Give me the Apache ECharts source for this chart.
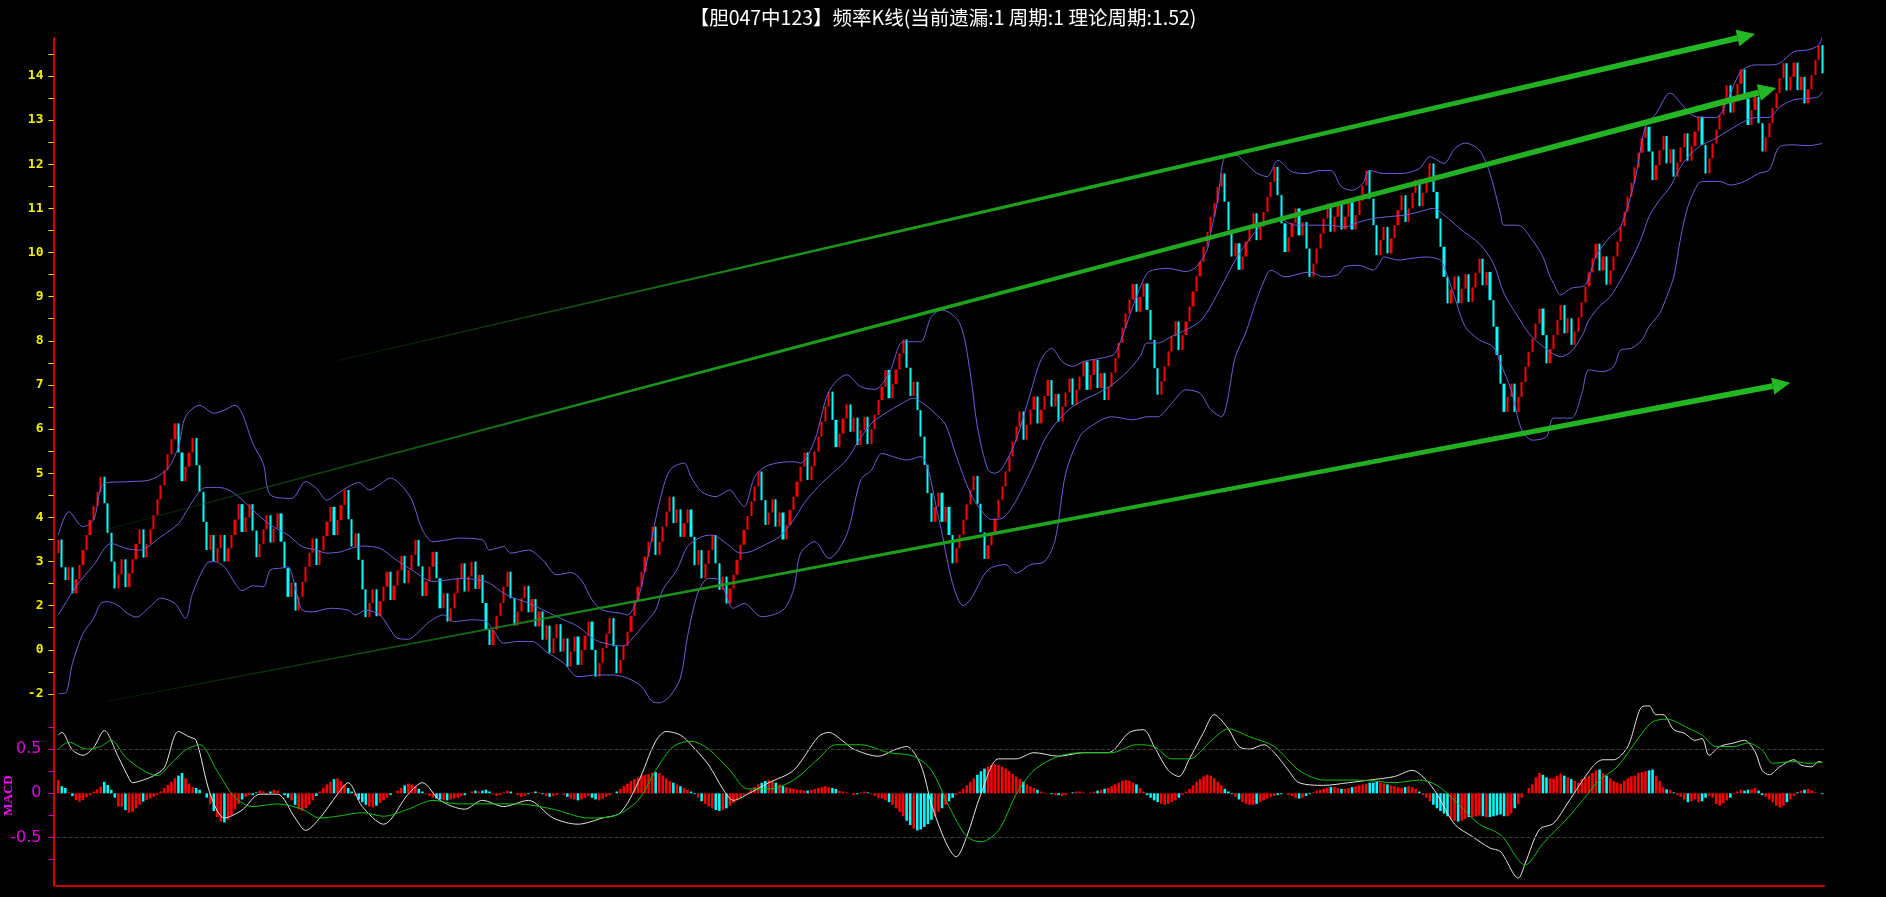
<!DOCTYPE html>
<html><head><meta charset="utf-8">
<script src="https://cdn.jsdelivr.net/npm/echarts@6/dist/echarts.min.js"></script>
<style>html,body{margin:0;padding:0;background:#000;}#c{width:1886px;height:897px;}</style>
</head><body><div id="c"></div>
<script>
const titleText = '【胆047中123】频率K线(当前遗漏:1 周期:1 理论周期:1.52)';
const firstOpen = 3.19;
const closes = [
3.50,2.87,2.58,2.87,2.28,2.60,2.92,3.26,3.60,3.94,
4.26,4.58,4.92,4.32,3.65,3.00,2.39,2.71,3.05,2.42,
2.73,3.05,3.40,3.73,3.09,3.40,3.73,4.05,4.41,4.73,
5.07,5.43,5.77,6.13,5.47,4.82,5.15,5.47,5.80,5.18,
4.58,3.90,3.26,3.60,3.00,3.30,3.60,3.00,3.30,3.60,
3.95,4.30,3.67,4.00,4.30,3.70,3.10,3.40,3.73,4.05,
3.43,3.75,4.09,3.45,2.85,2.20,2.52,1.89,2.20,2.54,
2.88,3.20,3.52,2.92,3.25,3.58,3.90,4.24,3.60,3.94,
4.28,4.62,
3.96,3.34,3.64,3.04,2.37,1.74,2.06,2.37,1.76,2.10,
2.43,2.77,2.13,2.46,2.80,3.13,2.51,2.81,3.15,3.49,
2.89,2.22,2.55,2.88,3.22,2.62,1.94,2.28,1.64,1.94,
2.28,2.62,2.96,2.32,2.66,3.00,2.38,2.70,2.06,1.45,
1.11,1.45,1.77,2.06,2.43,2.77,2.17,1.55,1.87,2.17,
2.45,1.85,2.15,1.53,1.87,1.23,1.55,0.92,1.26,1.58,
0.96,1.26,0.62,0.96,1.30,0.66,1.00,1.32,1.64,1.00,
0.39,0.70,1.04,1.36,1.72,1.08,0.47,0.77,1.09,1.41,
1.77,2.10,2.43,2.77,3.11,3.45,3.79,3.15,
3.45,3.79,4.13,4.47,3.87,4.18,3.56,3.87,4.18,3.56,
2.92,3.26,2.62,2.95,3.26,3.60,2.96,2.36,2.66,2.05,
2.39,2.70,3.04,3.38,3.72,4.03,4.36,4.70,5.04,4.39,
3.83,4.11,4.41,3.79,4.11,3.50,3.83,4.17,4.47,4.81,
5.15,5.47,4.85,5.16,5.49,5.83,6.17,6.51,6.85,6.21,
5.59,5.90,6.24,6.56,5.94,6.26,5.64,5.98,6.28,5.66,
6.00,6.32,6.66,6.96,7.34,6.70,7.02,7.35,7.72,8.03,
7.39,6.75,7.07,6.43,5.83,5.19,4.55,3.90,4.24,4.56,
3.90,4.24,3.60,2.96,
3.30,3.61,3.95,4.29,4.61,4.94,4.31,3.66,3.06,3.37,
3.67,3.98,4.40,4.70,5.04,5.38,5.72,6.06,6.40,5.76,
6.10,6.44,6.74,6.13,6.44,6.75,7.11,6.51,6.80,6.17,
6.51,6.83,7.15,6.55,6.89,7.19,7.53,6.89,7.23,7.57,
6.93,7.27,6.66,6.96,7.28,7.61,7.95,8.29,8.62,8.93,
9.29,8.66,9.00,9.30,8.70,8.02,7.38,6.78,7.08,7.42,
7.76,8.10,8.44,7.79,8.13,8.44,8.78,9.12,9.46,9.79,
10.13,10.47,10.81,11.12,11.49,11.79,11.15,10.51,9.91,10.21,
9.61,9.91,10.25,10.55,10.89,
10.28,10.58,10.92,11.26,11.60,11.94,11.30,10.66,10.01,10.35,
10.67,11.00,10.39,10.69,10.09,9.45,9.75,10.09,10.43,10.77,
11.11,10.47,10.81,11.12,10.52,10.81,11.14,10.52,10.85,11.17,
11.52,11.86,11.22,10.62,9.94,10.28,10.58,9.98,10.32,10.62,
10.96,11.30,10.69,11.00,11.35,11.65,11.05,11.35,11.65,12.02,
11.37,10.77,10.13,9.45,8.85,9.16,9.46,8.85,9.18,9.51,
8.88,9.21,9.54,9.86,9.26,9.56,8.92,8.32,7.68,7.03,
6.39,6.73,7.03,6.39,6.73,7.07,7.41,7.75,8.05,8.39,
8.73,8.13,7.49,
7.81,8.13,8.47,8.81,8.17,8.51,7.91,8.21,8.53,8.87,
9.23,9.55,9.87,10.20,9.59,9.91,9.27,9.59,9.91,10.25,
10.59,10.93,11.27,11.58,11.93,12.26,12.59,12.85,12.29,11.64,
11.98,12.32,12.64,12.02,12.34,11.72,12.04,12.38,12.70,12.08,
12.41,12.74,13.08,12.44,11.79,12.13,12.47,12.79,13.12,13.46,
13.79,13.17,13.49,13.82,14.15,13.49,12.89,13.23,13.53,12.93,
12.29,12.61,12.93,13.27,13.61,13.95,14.29,13.67,13.98,14.30,
13.68,13.98,13.38,13.70,14.02,14.36,14.70,14.06
];
const bollUpper = [[0,3.6],[3,4.13],[7,3.79],[10,3.94],[13,4.77],[20,4.81],[26,4.85],[31,5.11],[34,5.6],[36,6.28],[40,6.54],[44,6.36],[47,6.43],[50,6.54],[52,6.36],[55,5.68],[58,5.22],[60,4.51],[66,4.43],[70,4.81],[73,4.66],[76,4.39],[79,4.54],[82,4.69],
[85,4.79],[88,4.62],[91,4.75],[94,4.89],[97,4.73],[100,4.4],[103,3.72],[106,3.45],[110,3.49],[113,3.53],[120,3.49],[122,3.26],[126,3.34],[128,3.19],[133,3.26],[137,3.04],[141,2.70],[145,2.75],[148,2.58],[151,2.13],[154,1.9],[159,1.83],[161,1.79],[164,2.17],[166,2.81],[168,3.56],
[170,4.32],[173,5.07],[177,5.23],[179,4.92],[182,4.58],[186,4.47],[190,4.62],[192,4.43],[194,4.24],[197,4.92],[200,5.15],[204,5.24],[208,5.26],[210,5.23],[214,5.75],[218,6.85],[223,7.23],[227,6.96],[231,6.9],[235,7.26],[239,7.98],[242,7.98],[244,7.98],[247,8.55],[250,8.70],
[255,8.4],[258,7.27],[260,6.06],[263,5.08],[265,5.0],[267,5.11],[271,5.76],[275,6.81],[278,7.57],[281,7.83],[284,7.53],[287,7.42],[290,7.53],[293,7.58],[297,7.64],[299,7.72],[302,8.32],[305,9.0],[308,9.53],[310,9.61],[314,9.64],[319,9.57],[322,9.68],[325,10.06],[326,10.44],[328,11.19],[330,12.17],[333,12.21],[336,12.02],[339,11.8],
[342,11.72],[345,12.09],[349,11.83],[353,11.79],[357,11.86],[360,11.86],[363,11.49],[366,11.41],[369,11.56],[371,11.86],[375,11.79],[380,11.79],[385,11.9],[388,12.17],[392,12.02],[395,12.35],[398,12.48],[402,12.32],[405,11.79],[408,10.88],[409,10.62],[413,10.62],[417,10.28],[420,9.9],[422,9.45],
[423,9.30],[425,9.04],[428,9.19],[432,9.27],[435,9.91],[439,10.36],[442,10.59],[446,11.64],[449,12.85],[452,13.15],[455,13.57],[456,13.61],[459,13.38],[462,13.12],[465,13.06],[469,13.06],[472,13.42],[476,14.10],[480,14.25],[484,14.25],[487,14.29],[491,14.55],[495,14.59],[498,14.70],[499,14.89]];
const bollMid = [[0,1.79],[5,2.43],[10,2.92],[15,3.41],[19,3.3],[23,3.26],[29,3.56],[34,3.86],[37,4.24],[41,4.66],[43,4.68],[47,4.66],[51,4.47],[55,4.17],[60,3.83],[65,3.6],[69,3.34],[73,3.26],[76,3.19],[80,3.22],
[82,3.28],[86,3.35],[91,3.30],[95,3.07],[100,2.81],[106,2.55],[110,2.58],[114,2.62],[119,2.58],[122,2.51],[126,2.28],[129,2.17],[133,2.06],[138,1.87],[143,1.68],[147,1.53],[152,1.22],[157,1.11],[160,1.09],[162,1.22],[166,1.6],[169,1.9],
[171,2.36],[175,2.81],[178,3.34],[182,3.56],[185,3.6],[189,3.41],[193,3.19],[196,3.23],[200,3.38],[204,3.56],[208,3.94],[211,4.32],[215,4.7],[219,5.0],[223,5.3],[226,5.68],[230,6.13],[234,6.36],[238,6.55],[242,6.70],[244,6.62],[248,6.36],[251,6.1],[254,5.4],
[258,4.55],[261,4.17],[264,3.95],[267,3.98],[270,4.25],[273,4.7],[276,5.2],[279,5.76],[283,6.21],[287,6.51],[291,6.70],[294,6.81],[298,7.0],[302,7.27],[306,7.64],[308,7.95],[311,7.95],[315,8.10],[319,8.25],[323,8.44],[326,8.78],[330,9.38],[333,9.83],[336,10.2],[339,10.5],
[342,10.7],[345,10.77],[350,10.62],[355,10.62],[359,10.62],[364,10.58],[368,10.69],[372,10.77],[376,10.81],[381,10.85],[385,10.92],[389,11.0],[392,10.85],[397,10.51],[402,10.2],[406,9.75],[409,9.07],[413,8.54],[416,8.17],[419,7.94],[422,7.75],
[425,7.64],[428,7.76],[431,8.1],[433,8.47],[436,8.78],[439,9.0],[442,9.38],[445,9.83],[448,10.36],[450,10.81],[453,11.19],[456,11.49],[459,11.95],[462,12.25],[465,12.44],[468,12.55],[472,12.74],[476,12.93],[479,13.04],[481,13.06],[484,13.06],[487,13.30],[491,13.46],[495,13.49],[498,13.53],[499,13.64]];
const bollLower = [[0,0.01],[2,0.02],[4,0.69],[7,1.37],[10,1.71],[12,2.05],[14,2.09],[17,2.0],[19,1.86],[22,1.74],[26,1.98],[29,2.17],[33,2.05],[36,1.71],[38,2.28],[42,2.96],[44,3.0],[47,2.88],[50,2.51],[52,2.34],[55,2.45],[58,2.43],[60,2.81],[63,2.85],[65,2.88],[67,2.43],[69,1.9],[72,1.86],[77,1.94],[82,1.9],
[84,1.79],[87,1.9],[91,1.79],[94,1.45],[96,1.26],[99,1.24],[102,1.41],[105,1.64],[109,1.79],[112,1.64],[117,1.68],[121,1.64],[123,1.45],[126,1.15],[130,1.19],[134,1.19],[138,0.96],[143,0.70],[147,0.39],[152,0.43],[157,0.43],[161,0.36],[165,0.17],[168,-0.17],
[170,-0.2],[173,-0.05],[176,0.36],[178,1.3],[181,2.3],[184,2.62],[187,2.58],[191,1.94],[194,2.05],[199,1.75],[205,1.9],[208,2.36],[210,3.19],[214,3.45],[218,3.07],[223,3.6],[227,4.85],[230,5.07],[233,5.45],[236,5.38],[240,5.3],[244,5.38],[249,4.0],[253,2.5],[256,2.0],
[258,2.13],[263,2.81],[268,2.93],[271,2.74],[275,2.93],[279,3.0],[282,3.49],[285,5.0],[289,5.83],[292,6.06],[298,6.28],[304,6.21],[308,6.28],[311,6.28],[315,6.59],[319,6.89],[323,6.81],[326,6.44],[329,6.28],[333,7.64],[336,8.2],[339,8.93],
[342,9.52],[343,9.6],[347,9.45],[354,9.56],[358,9.45],[362,9.5],[364,9.68],[368,9.71],[372,9.6],[374,9.79],[375,9.9],[379,9.83],[383,9.87],[387,9.9],[391,9.83],[392,9.68],[395,9.0],[398,8.32],[402,8.02],[406,7.86],[408,7.49],[411,6.88],[414,5.98],[417,5.75],[421,5.83],
[423,6.25],[428,6.25],[431,6.81],[433,7.34],[437,7.3],[440,7.42],[442,7.79],[445,7.83],[448,8.02],[450,8.32],[453,8.62],[455,9.0],[457,9.45],[459,10.36],[461,11.04],[464,11.57],[466,11.61],[470,11.61],[473,11.53],[477,11.61],[481,11.79],[484,11.87],[487,12.40],[491,12.44],[495,12.42],[499,12.47]];
const macdHist = [
0.15,0.08,0.06,0.01,-0.03,-0.075,-0.094,-0.075,-0.045,-0.02,
0.02,0.045,0.075,0.13,0.094,0.04,-0.05,-0.15,-0.15,-0.19,
-0.22,-0.21,-0.17,-0.13,-0.094,-0.075,-0.06,-0.04,-0.02,0.02,
0.06,0.094,0.13,0.17,0.2,0.23,0.17,0.11,0.07,0.06,
0.04,0,-0.05,-0.12,-0.2,-0.27,-0.32,-0.33,-0.3,-0.25,
-0.18,-0.12,-0.07,-0.04,-0.02,-0.02,0.01,0.03,0.02,-0.01,
0.02,0.04,0.03,0,-0.02,-0.05,-0.08,-0.13,-0.18,-0.2,
-0.17,-0.13,-0.08,-0.03,0.02,0.06,0.1,0.13,0.16,0.17,
0.14,0.1,0.06,0.02,-0.03,-0.07,-0.1,-0.13,-0.15,-0.16,
-0.14,-0.11,-0.08,-0.05,-0.02,0,0.03,0.06,0.09,0.11,
0.1,0.08,0.05,0.02,-0.01,-0.03,-0.05,-0.06,-0.07,-0.08,
-0.08,-0.07,-0.06,-0.05,-0.03,-0.02,0,0.02,0.03,0.02,
0.03,0.04,0.02,-0.01,-0.03,-0.02,0.01,0.03,0.02,0,
-0.02,-0.04,-0.03,-0.01,0.01,0.02,0.01,-0.01,-0.03,-0.04,
-0.03,-0.02,0,-0.02,-0.04,-0.06,-0.07,-0.08,-0.07,-0.05,
-0.03,-0.05,-0.07,-0.08,-0.06,-0.04,-0.02,0,0.02,0.05,
0.08,0.11,0.14,0.16,0.18,0.2,0.21,0.22,0.23,0.24,
0.23,0.2,0.17,0.14,0.12,0.1,0.08,0.06,0.04,0.02,
-0.01,-0.05,-0.09,-0.12,-0.15,-0.17,-0.19,-0.2,-0.19,-0.17,
-0.14,-0.11,-0.08,-0.05,-0.02,0.01,0.04,0.07,0.1,0.12,
0.14,0.15,0.14,0.12,0.1,0.08,0.07,0.06,0.05,0.04,
0.04,0.03,0.03,0.04,0.05,0.06,0.07,0.08,0.07,0.06,
0.05,0.03,0.02,0.01,0,-0.02,-0.01,0.01,0.02,0.01,
-0.01,-0.03,-0.05,-0.06,-0.08,-0.1,-0.13,-0.17,-0.21,-0.26,
-0.31,-0.36,-0.4,-0.42,-0.41,-0.38,-0.35,-0.3,-0.26,-0.21,
-0.17,-0.13,-0.09,-0.05,-0.02,0.02,0.05,0.09,0.13,0.17,
0.21,0.25,0.28,0.3,0.32,0.33,0.32,0.3,0.28,0.25,
0.22,0.19,0.16,0.13,0.1,0.08,0.06,0.04,0.02,0.01,
0,-0.01,-0.02,-0.02,-0.03,-0.02,0,0.01,0.02,0.02,
0.01,0,0.01,0.02,0.03,0.04,0.05,0.06,0.08,0.1,
0.12,0.14,0.15,0.14,0.12,0.1,0.06,0.02,-0.02,-0.05,
-0.08,-0.1,-0.12,-0.13,-0.12,-0.1,-0.08,-0.05,-0.02,0.02,
0.05,0.09,0.13,0.16,0.19,0.21,0.2,0.17,0.13,0.09,
0.05,0.02,-0.01,-0.04,-0.07,-0.1,-0.12,-0.13,-0.13,-0.12,
-0.1,-0.08,-0.06,-0.04,-0.03,-0.02,-0.01,0,-0.02,-0.03,
-0.05,-0.06,-0.05,-0.03,-0.01,0.01,0.03,0.04,0.05,0.06,
0.07,0.07,0.06,0.05,0.05,0.06,0.07,0.08,0.09,0.1,
0.11,0.12,0.12,0.13,0.12,0.11,0.1,0.09,0.08,0.07,
0.06,0.07,0.08,0.07,0.05,0.02,-0.02,-0.05,-0.09,-0.13,
-0.17,-0.2,-0.23,-0.26,-0.29,-0.31,-0.32,-0.31,-0.29,-0.27,
-0.27,-0.26,-0.25,-0.26,-0.27,-0.27,-0.26,-0.25,-0.24,-0.26,
-0.26,-0.23,-0.17,-0.12,-0.05,0,0.06,0.1,0.18,0.23,
0.21,0.18,0.17,0.17,0.2,0.22,0.2,0.18,0.16,0.14,
0.12,0.16,0.18,0.2,0.23,0.26,0.27,0.23,0.2,0.17,
0.14,0.12,0.11,0.14,0.17,0.19,0.2,0.23,0.24,0.25,
0.26,0.27,0.2,0.14,0.07,0.045,0.04,0.01,-0.02,-0.04,
-0.07,-0.1,-0.09,-0.07,-0.1,-0.09,-0.05,-0.03,-0.05,-0.12,
-0.14,-0.11,-0.08,-0.05,-0.01,0.02,0.04,0.03,0.04,0.045,
0.06,0.03,-0.02,-0.04,-0.07,-0.1,-0.14,-0.16,-0.14,-0.1,
-0.07,-0.03,0.01,0.03,0.04,0.05,0.03,0.01,0,-0.01
];
const macdDif = [[0,0.66],[1,0.69],[4,0.49],[7,0.43],[10,0.52],[13,0.71],[17,0.41],[20,0.17],[21,0.12],[24,0.15],[27,0.2],[30,0.29],[34,0.70],[37,0.64],[39,0.6],[43,-0.01],[47,-0.28],[52,-0.19],[57,-0.01],[62,-0.01],[67,-0.28],[70,-0.42],[74,-0.28],[79,-0.01],[82,0.12],[86,-0.15],[92,-0.35],[99,-0.01],[103,0.12],[108,-0.08],[115,-0.18],[120,-0.08],[126,-0.15],[133,-0.08],[140,-0.28],[147,-0.35],[154,-0.28],[159,-0.22],[164,0.12],[169,0.59],[172,0.70],[176,0.66],[179,0.55],[184,0.32],[188,0.05],[191,-0.08],[195,-0.01],[201,0.12],[208,0.26],[215,0.64],[218,0.69],[222,0.59],[225,0.5],[232,0.42],[237,0.5],[240,0.53],[244,0.32],[247,-0.12],[251,-0.55],[254,-0.72],[257,-0.49],[261,-0.01],[266,0.39],[271,0.39],[276,0.46],[283,0.42],[290,0.46],[297,0.46],[303,0.69],[307,0.72],[310,0.53],[314,0.26],[317,0.19],[320,0.39],[324,0.69],[327,0.89],[331,0.73],[334,0.53],[337,0.5],[341,0.55],[344,0.46],[348,0.26],[351,0.12],[358,0.09],[365,0.12],[371,0.15],[378,0.19],[383,0.26],[387,0.15],[390,-0.01],[395,-0.35],[400,-0.49],[405,-0.62],[408,-0.66],[413,-0.96],[415,-0.79],[419,-0.41],[423,-0.34],[427,-0.11],[434,0.30],[437,0.38],[440,0.38],[444,0.53],[448,0.98],[450,0.99],[452,0.89],[454,0.89],[457,0.72],[460,0.68],[463,0.60],[465,0.62],[467,0.43],[470,0.53],[474,0.57],[477,0.60],[480,0.47],[482,0.26],[484,0.21],[487,0.30],[491,0.38],[493,0.32],[496,0.30],[498,0.36],[499,0.35]];
const macdDea = [[0,0.5],[3,0.58],[8,0.5],[12,0.53],[15,0.6],[19,0.41],[24,0.26],[28,0.2],[32,0.34],[36,0.49],[40,0.55],[45,0.25],[50,-0.05],[55,-0.15],[62,-0.12],[69,-0.18],[74,-0.28],[79,-0.26],[86,-0.22],[92,-0.26],[99,-0.18],[106,-0.08],[113,-0.12],[120,-0.12],[130,-0.12],[140,-0.18],[150,-0.28],[157,-0.26],[164,-0.08],[169,0.26],[174,0.53],[179,0.59],[184,0.5],[190,0.26],[195,0.05],[201,0.05],[208,0.15],[215,0.39],[220,0.55],[227,0.55],[235,0.46],[242,0.42],[247,0.26],[252,-0.15],[257,-0.49],[261,-0.55],[266,-0.42],[271,-0.01],[276,0.26],[283,0.42],[290,0.46],[298,0.46],[305,0.55],[310,0.53],[315,0.39],[320,0.39],[326,0.59],[331,0.73],[337,0.64],[344,0.53],[351,0.26],[358,0.15],[368,0.15],[378,0.12],[385,0.15],[390,0.09],[395,-0.08],[402,-0.35],[408,-0.47],[415,-0.81],[420,-0.57],[427,-0.28],[432,-0.04],[436,0.15],[441,0.30],[448,0.68],[451,0.81],[455,0.84],[461,0.74],[465,0.66],[469,0.53],[474,0.53],[478,0.57],[482,0.49],[485,0.34],[491,0.36],[495,0.34],[499,0.35]];
// trend arrows: [startIndex, startValue, endIndex, endValue]
const trendArrows = [[79,7.55,480,14.95],[10,3.65,486,13.73],[14,-0.16,490,7.05]];
const priceTickPos = [0,1,2,3,4,5,6,7,8,9,10,11,12,13,14];
const priceTickText = ['-2','0','2','3','4','5','6','7','8','9','10','11','12','13','14'];
const priceTickMarks = [0,0.5,1,1.5,2,2.5,3,3.5,4,4.5,5,5.5,6,6.5,7,7.5,8,8.5,9,9.5,10,10.5,11,11.5,12,12.5,13,13.5,14,14.5];
const macdTickMarks = [-0.75,-0.5,-0.25,0,0.25,0.5,0.75];
const macdTickLabels = [-0.5,0,0.5];

const categories = closes.map((_, i) => String(i + 1));
const candleData = closes.map((c, i) => {
  const o = i === 0 ? firstOpen : closes[i - 1];
  return [o, c, Math.min(o, c), Math.max(o, c)];
});
const candleUp = candleData.map(d => d[1] >= d[0]);

const RED = '#ff0000', CYAN = '#00ffff', AXIS_RED = '#d40000', BAND = '#6c5fd8';
const chart = echarts.init(document.getElementById('c'), null, {renderer: 'canvas'});

function arrowRender(params, api) {
  const p0 = api.coord([api.value(0), api.value(1)]);
  const p1 = api.coord([api.value(2), api.value(3)]);
  const dx = p1[0] - p0[0], dy = p1[1] - p0[1];
  const len = Math.sqrt(dx * dx + dy * dy);
  const ux = dx / len, uy = dy / len, nx = -uy, ny = ux;
  const headLen = 18, headHalf = 8.5, w0 = 0.4, w1 = 3.0;
  const bx = p1[0] - ux * headLen, by = p1[1] - uy * headLen;
  const grad = {type: 'linear', x: p0[0], y: p0[1], x2: p1[0], y2: p1[1], global: true,
    colorStops: [{offset: 0, color: 'rgba(20,80,20,0.35)'}, {offset: 0.3, color: '#1a901a'}, {offset: 0.6, color: '#1fa81f'}, {offset: 1, color: '#24b824'}]};
  return {type: 'group', children: [
    {type: 'polygon', shape: {points: [[p0[0] + nx * w0, p0[1] + ny * w0], [bx + nx * w1, by + ny * w1], [bx - nx * w1, by - ny * w1], [p0[0] - nx * w0, p0[1] - ny * w0]]}, style: {fill: grad}},
    {type: 'polygon', shape: {points: [[bx + nx * headHalf, by + ny * headHalf], [p1[0], p1[1]], [bx - nx * headHalf, by - ny * headHalf]]}, style: {fill: '#24b824'}}
  ]};
}

const option = {
  backgroundColor: '#000000',
  animation: false,
  title: {text: titleText, left: 'center', top: 3,
    textStyle: {color: '#ffffff', fontSize: 19.5, fontWeight: 'normal', fontFamily: '"Noto Sans CJK SC", sans-serif'}},
  grid: [
    {left: 56.5, right: 62, top: 38, height: 667, outerBoundsMode: 'none'},
    {left: 56.5, right: 62, top: 705, height: 181, outerBoundsMode: 'none'}
  ],
  xAxis: [
    {type: 'category', gridIndex: 0, data: categories, boundaryGap: true,
      axisLine: {show: false}, axisTick: {show: false}, axisLabel: {show: false}, splitLine: {show: false}},
    {type: 'category', gridIndex: 1, data: categories, boundaryGap: true,
      axisLine: {show: true, onZero: false, lineStyle: {color: AXIS_RED, width: 2}},
      axisTick: {show: false}, axisLabel: {show: false}, splitLine: {show: false}}
  ],
  yAxis: [
    {type: 'value', gridIndex: 0, min: -0.25, max: 14.86, offset: 3,
      axisLine: {show: true, onZero: false, lineStyle: {color: AXIS_RED, width: 2}},
      axisTick: {show: true, customValues: priceTickMarks, length: 5, lineStyle: {color: '#e8e800', width: 1}},
      axisLabel: {show: true, customValues: priceTickPos, margin: 10, color: '#f0f000', fontSize: 13, fontWeight: 'bold',
        fontFamily: '"DejaVu Sans Mono", monospace',
        formatter: v => { const k = priceTickPos.findIndex(p => Math.abs(p - v) < 1e-6); return k >= 0 ? priceTickText[k] : ''; }},
      splitLine: {show: false}},
    {type: 'value', gridIndex: 1, min: -1.05, max: 1.0, offset: 3,
      name: 'MACD', nameLocation: 'middle', nameGap: 38, nameRotate: 90, nameMoveOverlap: false,
      nameTextStyle: {color: '#ff00ff', fontWeight: 'bold', fontSize: 13, fontFamily: '"Liberation Serif", serif'},
      axisLine: {show: true, onZero: false, lineStyle: {color: AXIS_RED, width: 2}},
      axisTick: {show: true, customValues: macdTickMarks, length: 5, lineStyle: {color: '#d000d0', width: 1}},
      axisLabel: {show: true, customValues: macdTickLabels, margin: 12, color: '#e000e0', fontSize: 16,
        fontFamily: '"DejaVu Sans", sans-serif', formatter: v => (Math.abs(v) < 1e-9 ? '0' : String(v))},
      splitLine: {show: false}}
  ],
  series: [
    {type: 'candlestick', name: 'K', xAxisIndex: 0, yAxisIndex: 0, data: candleData, barWidth: '76%',
      itemStyle: {color: RED, color0: CYAN, borderColor: RED, borderColor0: CYAN, borderWidth: 0}},
    {type: 'line', name: 'UP', xAxisIndex: 0, yAxisIndex: 0, data: bollUpper, symbol: 'none', smooth: 0.3,
      lineStyle: {color: BAND, width: 1}, z: 3},
    {type: 'line', name: 'MID', xAxisIndex: 0, yAxisIndex: 0, data: bollMid, symbol: 'none', smooth: 0.3,
      lineStyle: {color: BAND, width: 1}, z: 3},
    {type: 'line', name: 'LOW', xAxisIndex: 0, yAxisIndex: 0, data: bollLower, symbol: 'none', smooth: 0.3,
      lineStyle: {color: BAND, width: 1}, z: 3},
    {type: 'custom', name: 'trend', xAxisIndex: 0, yAxisIndex: 0, data: trendArrows, clip: false, silent: true,
      encode: {x: [0, 2], y: [1, 3]}, renderItem: arrowRender, z: 10},
    {type: 'bar', name: 'MACD', xAxisIndex: 1, yAxisIndex: 1, data: macdHist, barWidth: '72%',
      itemStyle: {color: p => (candleUp[p.dataIndex] ? RED : CYAN)},
      markLine: {silent: true, symbol: ['none', 'none'], label: {show: false}, animation: false,
        lineStyle: {color: '#3c3c3c', type: 'dashed', width: 1}, data: [{yAxis: 0.5}, {yAxis: -0.5}]}},
    {type: 'line', name: 'DIF', xAxisIndex: 1, yAxisIndex: 1, data: macdDif, symbol: 'none', smooth: 0.3,
      lineStyle: {color: '#e4e4e4', width: 1}, z: 4},
    {type: 'line', name: 'DEA', xAxisIndex: 1, yAxisIndex: 1, data: macdDea, symbol: 'none', smooth: 0.3,
      lineStyle: {color: '#10c010', width: 1}, z: 4}
  ]
};
chart.setOption(option);
</script>
</body></html>
